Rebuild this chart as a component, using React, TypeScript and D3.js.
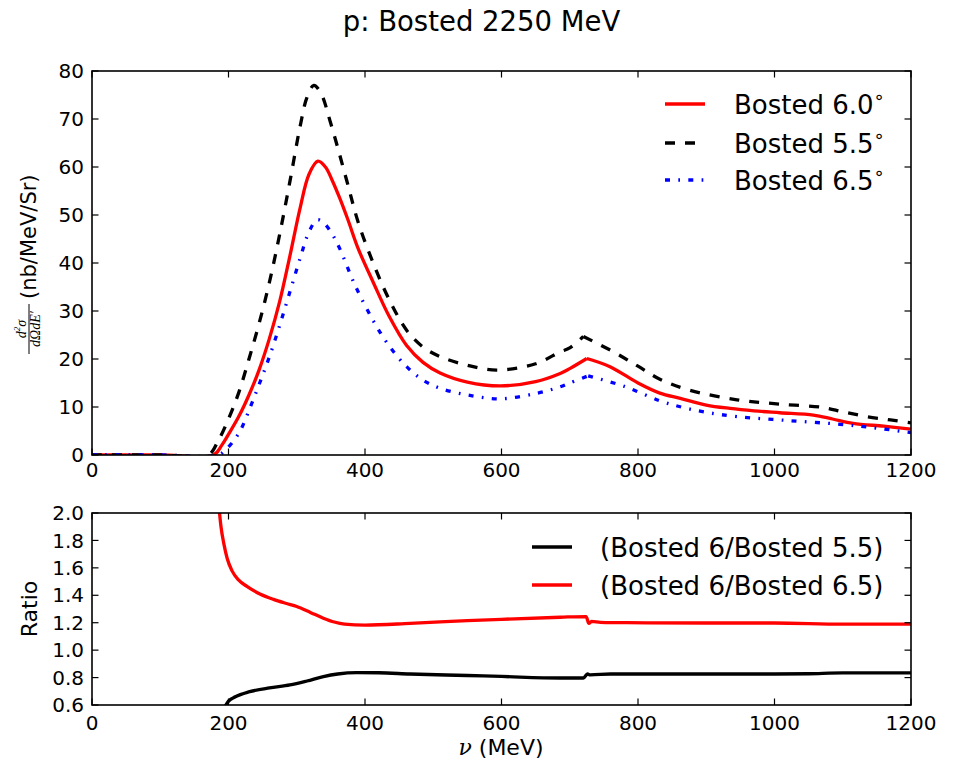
import React from "react";
import * as d3 from "d3";

const TITLE = "p: Bosted 2250 MeV";

// Top panel: d2sigma/dOmega dE' (nb/MeV/Sr) vs nu (MeV)
const nu60 = [0, 100, 178, 190, 200, 215, 230, 245, 260, 275, 290, 305, 318, 331, 342, 352, 363, 375, 390, 412, 435, 461, 485, 510, 550, 598, 650, 686, 700, 725, 759, 800, 832, 862, 900, 935, 970, 1008, 1057, 1085, 1115, 1160, 1200];
const val60 = [0, 0, 0, 2, 4.3, 8, 12.5, 17.8, 24.3, 32, 41.5, 51.5, 58.5, 61.2, 60, 57.2, 53.5, 49, 43, 36, 29, 22.8, 19.3, 17.1, 15.2, 14.4, 15.3, 17, 18, 20.1, 18.4, 15, 12.9, 11.8, 10.4, 9.7, 9.2, 8.8, 8.3, 7.5, 6.6, 6, 5.4];

const nu55 = [0, 100, 170, 185, 200, 215, 230, 245, 260, 275, 290, 305, 315, 325, 335, 350, 373, 390, 412, 435, 461, 485, 510, 550, 593, 650, 686, 700, 720, 764, 800, 832, 876, 945, 1008, 1071, 1100, 1135, 1170, 1200];
const val55 = [0, 0, 0, 3, 7.5, 13, 20, 27.5, 36, 46, 57, 68.5, 74.5, 77, 75.5, 69, 57.3, 48.5, 40, 32.5, 26, 22.5, 20.5, 18.7, 17.7, 19, 21.5, 22.3, 24.7, 21.5, 18.5, 15.8, 13.5, 11.5, 10.6, 9.9, 9, 8, 7.3, 6.7];

const nu65 = [0, 100, 185, 195, 205, 217, 232, 247, 260, 275, 290, 305, 318, 330, 340, 352, 363, 385, 412, 435, 461, 485, 510, 550, 598, 650, 686, 700, 727, 780, 832, 866, 900, 945, 1018, 1096, 1150, 1200];
const val65 = [0, 0, 0, 1, 2.5, 5, 10, 15.5, 20.5, 27, 34, 41, 46.5, 49, 48.3, 46, 43, 35.5, 28, 22.8, 18.4, 15.6, 13.9, 12.5, 11.7, 12.8, 14.2, 15, 16.5, 14.3, 11.3, 9.9, 8.9, 8, 7.2, 6.4, 5.6, 4.65];

// Bottom panel: ratios
const nuR655 = [195, 200, 210, 231, 260, 290, 315, 339, 360, 388, 420, 466, 550, 600, 686, 720, 726, 730, 760, 900, 1000, 1050, 1100, 1200];
const ratio655 = [0.59, 0.628, 0.66, 0.697, 0.725, 0.746, 0.775, 0.807, 0.826, 0.836, 0.835, 0.826, 0.815, 0.808, 0.797, 0.797, 0.826, 0.82, 0.826, 0.826, 0.826, 0.828, 0.834, 0.834];

const nuR665 = [185, 189, 193, 198, 205, 215, 227, 246, 266, 285, 300, 320, 339, 355, 370, 400, 466, 550, 600, 686, 724, 728, 732, 745, 783, 900, 1000, 1100, 1200];
const ratio665 = [2.1, 1.9, 1.78, 1.67, 1.58, 1.51, 1.465, 1.41, 1.37, 1.34, 1.318, 1.275, 1.233, 1.205, 1.19, 1.183, 1.195, 1.215, 1.225, 1.24, 1.245, 1.195, 1.21, 1.203, 1.2, 1.198, 1.198, 1.19, 1.19];

const xTicks = [0, 200, 400, 600, 800, 1000, 1200];
const yTicksTop = [0, 10, 20, 30, 40, 50, 60, 70, 80];
const yTicksBot = [0.6, 0.8, 1.0, 1.2, 1.4, 1.6, 1.8, 2.0];

const topLegend = ["Bosted 6.0", "Bosted 5.5", "Bosted 6.5"];
const botLegend = ["(Bosted 6/Bosted 5.5)", "(Bosted 6/Bosted 6.5)"];

const FONT = "DejaVu Sans, sans-serif";

export default function App() {
  const W = 963;
  const H = 766;
  const L = 92, R = 911;
  const T1 = 71, B1 = 455;
  const T2 = 513, B2 = 705;
  const x = d3.scaleLinear().domain([0, 1200]).range([L, R]);
  const yT = d3.scaleLinear().domain([0, 80]).range([B1, T1]);
  const yB = d3.scaleLinear().domain([0.6, 2.0]).range([B2, T2]);

  const mk = (y: any, curve: any) =>
    d3.line<[number, number]>().x((d) => x(d[0])).y((d) => y(d[1])).curve(curve);

  const segPath = (nu: number[], v: number[], y: any, br: number) => {
    const pts: [number, number][] = nu.map((n, i) => [n, v[i]]);
    const idx = nu.indexOf(br);
    const line = mk(y, d3.curveCatmullRom.alpha(0.5));
    return (line(pts.slice(0, idx + 1)) || "") + (line(pts.slice(idx)) || "");
  };
  const fullPath = (nu: number[], v: number[], y: any) => {
    const pts: [number, number][] = nu.map((n, i) => [n, v[i]]);
    return mk(y, d3.curveMonotoneX)(pts) || "";
  };

  const tickLen = 6.5;
  const lw = 3.3;
  const dashBlack = "10 10";
  const dashBlue = "5 8.3 1.7 8.3";

  const frame = (top: number, bottom: number, yScale: any, yTicks: number[], fmt: (v: number) => string, xLabY: number) => (
    <g>
      {xTicks.map((t) => (
        <g key={"xt" + t}>
          <line x1={x(t)} x2={x(t)} y1={bottom} y2={bottom - tickLen} stroke="#000" strokeWidth={1.2} />
          <line x1={x(t)} x2={x(t)} y1={top} y2={top + tickLen} stroke="#000" strokeWidth={1.2} />
          <text x={x(t)} y={xLabY} textAnchor="middle" fontFamily={FONT} fontSize={20}>{t}</text>
        </g>
      ))}
      {yTicks.map((t) => (
        <g key={"yt" + t}>
          <line x1={L} x2={L + tickLen} y1={yScale(t)} y2={yScale(t)} stroke="#000" strokeWidth={1.2} />
          <line x1={R} x2={R - tickLen} y1={yScale(t)} y2={yScale(t)} stroke="#000" strokeWidth={1.2} />
          <text x={84} y={yScale(t)} dy="0.36em" textAnchor="end" fontFamily={FONT} fontSize={20}>{fmt(t)}</text>
        </g>
      ))}
      <rect x={L} y={top} width={R - L} height={bottom - top} fill="none" stroke="#000" strokeWidth={1.6} />
    </g>
  );

  const legendTopY = [104, 143, 180];
  const legendBotY = [547, 585];

  return (
    <svg width={W} height={H} style={{ position: "absolute", left: 0, top: 0, background: "#fff" }} xmlns="http://www.w3.org/2000/svg">
      <defs>
        <clipPath id="clipTop"><rect x={L} y={T1} width={R - L} height={B1 - T1} /></clipPath>
        <clipPath id="clipBot"><rect x={L} y={T2} width={R - L} height={B2 - T2} /></clipPath>
      </defs>
      <rect x={0} y={0} width={W} height={H} fill="#fff" />
      <text x={481.5} y={31} textAnchor="middle" fontFamily={FONT} fontSize={27.5}>{TITLE}</text>

      {/* top panel curves */}
      <g clipPath="url(#clipTop)" fill="none">
        <path d={segPath(nu60, val60, yT, 725)} stroke="#ff0000" strokeWidth={lw} />
        <path d={segPath(nu55, val55, yT, 720)} stroke="#000" strokeWidth={lw} strokeDasharray={dashBlack} />
        <path d={segPath(nu65, val65, yT, 727)} stroke="#0000ff" strokeWidth={lw} strokeDasharray={dashBlue} />
      </g>
      {frame(T1, B1, yT, yTicksTop, (v) => String(v), 477)}

      {/* top legend */}
      <g>
        {topLegend.map((lab, i) => (
          <g key={lab}>
            <line x1={665} x2={705} y1={legendTopY[i]} y2={legendTopY[i]}
              stroke={i === 0 ? "#ff0000" : i === 1 ? "#000" : "#0000ff"} strokeWidth={lw}
              strokeDasharray={i === 0 ? undefined : i === 1 ? dashBlack : dashBlue} />
            <text x={734} y={legendTopY[i] + 9.5} fontFamily={FONT} fontSize={26}>
              {lab}
              <tspan fontSize={18} dy={-11}>{"\u2218"}</tspan>
            </text>
          </g>
        ))}
      </g>

      {/* top y label */}
      <g transform="translate(0,263) rotate(-90)">
        <text x={-66} y={26} textAnchor="middle" fontFamily="Liberation Serif, serif" fontStyle="italic" fontSize={14}>
          d<tspan fontSize={9} dy={-6}>2</tspan><tspan dy={6}>σ</tspan>
        </text>
        <line x1={-91} x2={-41} y1={29} y2={29} stroke="#000" strokeWidth={1} />
        <text x={-66} y={40} textAnchor="middle" fontFamily="Liberation Serif, serif" fontStyle="italic" fontSize={14}>
          dΩdE′
        </text>
        <text x={-36} y={36} fontFamily={FONT} fontSize={21}>(nb/MeV/Sr)</text>
      </g>

      {/* bottom panel */}
      <g clipPath="url(#clipBot)" fill="none">
        <path d={fullPath(nuR655, ratio655, yB)} stroke="#000" strokeWidth={lw} />
        <path d={fullPath(nuR665, ratio665, yB)} stroke="#ff0000" strokeWidth={lw} />
      </g>
      {frame(T2, B2, yB, yTicksBot, (v) => v.toFixed(1), 730)}

      {botLegend.map((lab, i) => (
        <g key={lab}>
          <line x1={532} x2={572} y1={legendBotY[i]} y2={legendBotY[i]} stroke={i === 0 ? "#000" : "#ff0000"} strokeWidth={lw} />
          <text x={600} y={legendBotY[i] + 9.5} fontFamily={FONT} fontSize={26}>{lab}</text>
        </g>
      ))}

      <text transform="translate(37,609) rotate(-90)" textAnchor="middle" fontFamily={FONT} fontSize={22}>Ratio</text>
      <text x={501} y={755} textAnchor="middle" fontFamily={FONT} fontSize={22}>
        <tspan fontFamily="DejaVu Serif, serif" fontStyle="italic">ν</tspan> (MeV)
      </text>
    </svg>
  );
}
